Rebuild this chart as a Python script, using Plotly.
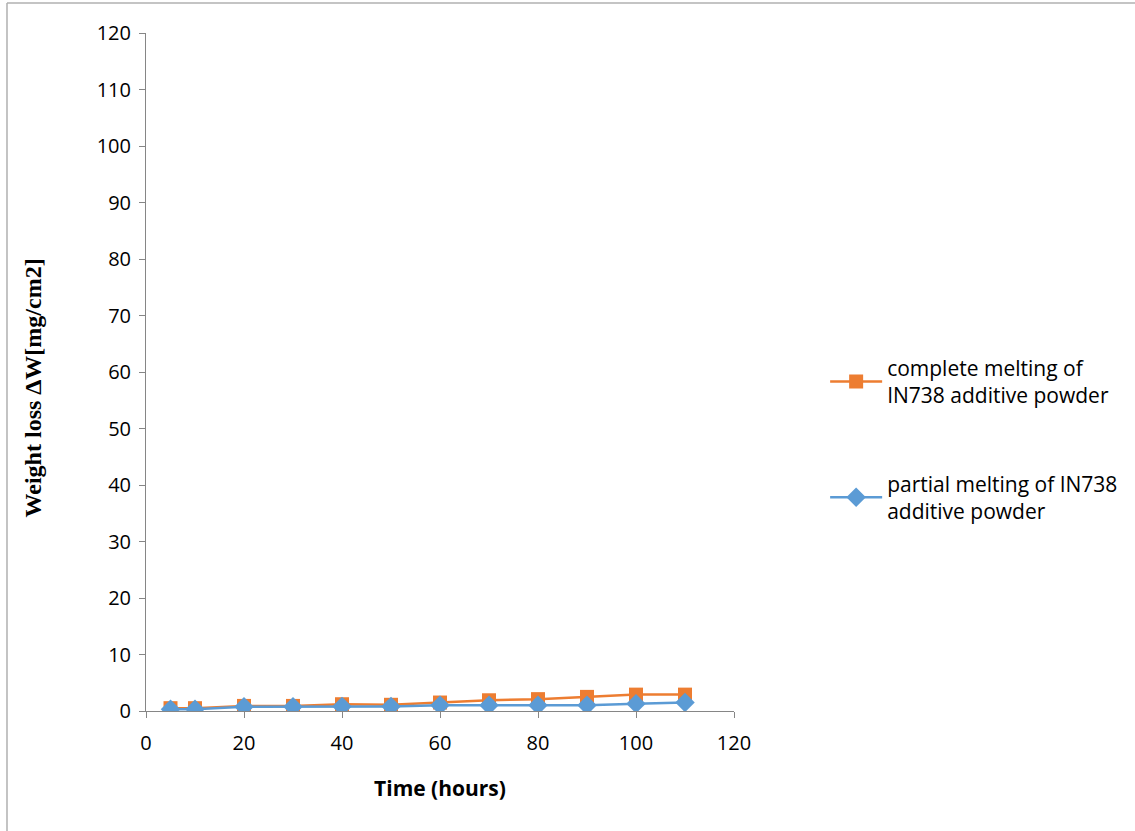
import plotly.graph_objects as go

# Exposure time (hours)
time_h = [5, 10, 20, 30, 40, 50, 60, 70, 80, 90, 100, 110]
# Weight loss ΔW [mg/cm2]
complete_melting = [0.5, 0.5, 0.9, 0.9, 1.2, 1.1, 1.5, 1.9, 2.1, 2.5, 2.9, 2.9]
partial_melting = [0.3, 0.3, 0.75, 0.75, 0.8, 0.8, 1.0, 1.0, 1.0, 1.0, 1.3, 1.5]

x_ticks = [0, 20, 40, 60, 80, 100, 120]
y_ticks = [0, 10, 20, 30, 40, 50, 60, 70, 80, 90, 100, 110, 120]

ORANGE = "#ED7D31"
BLUE = "#5B9BD5"
AXIS = "#868686"
TEXT_FONT = "Open Sans, Liberation Sans, sans-serif"

fig = go.Figure()
fig.add_trace(go.Scatter(
    x=time_h, y=complete_melting, mode="lines+markers",
    name="complete melting of<br>IN738 additive powder",
    legendgroup="a",
    line=dict(color=ORANGE, width=2.5),
    marker=dict(symbol="square", size=14, color=ORANGE),
))
fig.add_trace(go.Scatter(
    x=time_h, y=partial_melting, mode="lines+markers",
    name="partial melting of IN738<br>additive powder",
    legendgroup="b",
    line=dict(color=BLUE, width=2.5),
    marker=dict(symbol="diamond", size=15, color=BLUE),
))

axis_common = dict(
    showgrid=False, zeroline=False, showline=True, linecolor=AXIS, linewidth=1,
    ticks="outside", ticklen=6, tickcolor=AXIS,
    tickfont=dict(family=TEXT_FONT, size=20, color="#000000"),
)

fig.update_layout(
    width=1135, height=831,
    margin=dict(l=146, r=401, t=33, b=120),
    paper_bgcolor="white", plot_bgcolor="white",
    xaxis=dict(range=[0, 120], tickvals=x_ticks, ticklabelstandoff=8,
               title=dict(text="<b>Time (hours)</b>",
                          font=dict(family=TEXT_FONT, size=21, color="#000000"),
                          standoff=26),
               **axis_common),
    yaxis=dict(range=[0, 120], tickvals=y_ticks, ticklabelstandoff=4,
               **axis_common),
    legend=dict(
        x=1.155, y=0.40, xanchor="left", yanchor="middle",
        font=dict(family=TEXT_FONT, size=21, color="#000000"),
        tracegroupgap=58, itemwidth=52, bgcolor="rgba(0,0,0,0)",
    ),
    annotations=[
        dict(text="<b>Weight loss ΔW[mg/cm2]</b>", textangle=-90,
             xref="paper", yref="paper", x=-0.192, y=0.476,
             xanchor="center", yanchor="middle", showarrow=False,
             font=dict(family="Liberation Serif, Times New Roman, serif",
                       size=24, color="#000000")),
    ],
    shapes=[
        dict(type="line", xref="paper", yref="paper",
             x0=-0.2364, x1=1.69, y0=1.0442, y1=1.0442,
             line=dict(color="#B0B0B0", width=1.5)),
        dict(type="line", xref="paper", yref="paper",
             x0=-0.2364, x1=-0.2364, y0=1.0442, y1=-0.2,
             line=dict(color="#B0B0B0", width=1.5)),
    ],
)

fig.write_html("out.html")
